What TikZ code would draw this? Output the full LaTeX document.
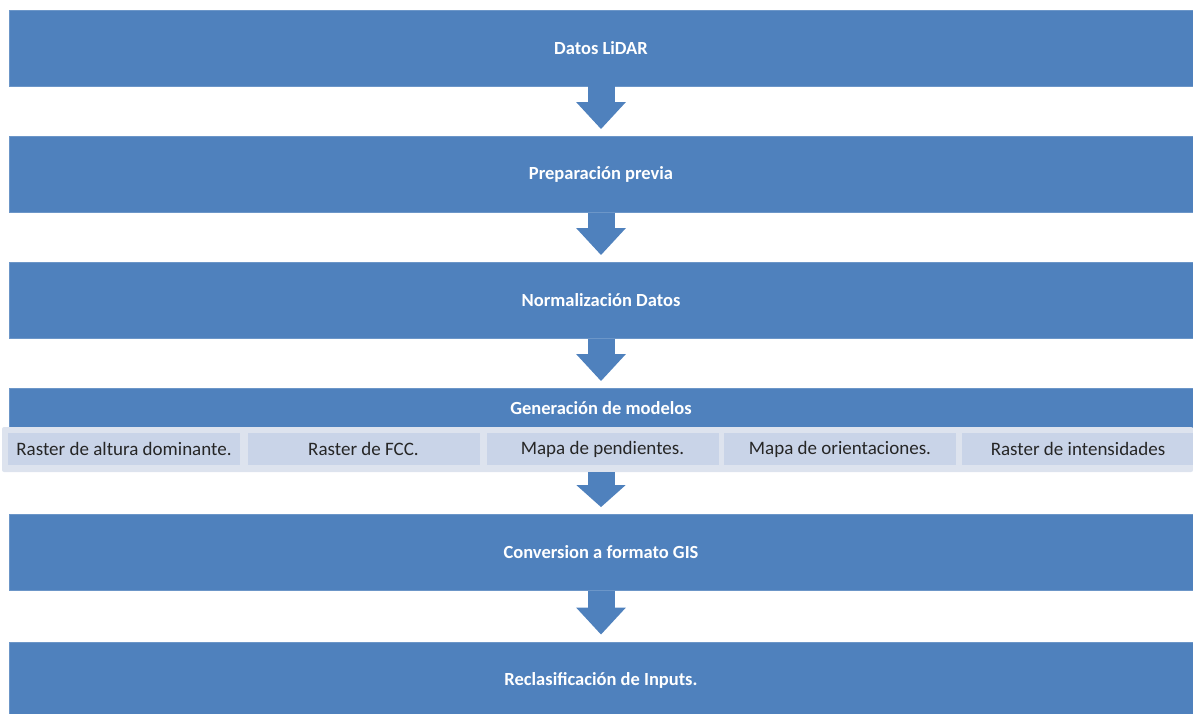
\documentclass[tikz,border=0pt]{standalone}
\usepackage{fontspec}
\setmainfont{Carlito}
\usetikzlibrary{arrows.meta}
\definecolor{boxblue}{HTML}{4F81BD}
\definecolor{boxedge}{HTML}{6C96C8}
\definecolor{panel}{HTML}{DDE3EE}
\definecolor{itemfill}{HTML}{C9D4E8}
\tikzset{
  stage/.style={fill=boxblue, draw=boxedge, line width=0.8pt, text=white, font=\bfseries\fontsize{18.5}{20}\selectfont, minimum width=1184pt, inner sep=0pt},
  item/.style={fill=itemfill, text=black!85, font=\fontsize{19}{21}\selectfont, minimum width=232pt, minimum height=32pt, inner sep=0pt},
  flow/.style={draw=boxblue, line width=27pt, -{Triangle[width=48pt,length=27pt]}, shorten >=7pt},
  flowsmall/.style={draw=boxblue, line width=27pt, -{Triangle[width=48pt,length=22pt]}, shorten >=7pt}
}
\begin{document}
\begin{tikzpicture}[x=1pt,y=-1pt]
\useasboundingbox (0,0) rectangle (1193,713);
\node[stage, minimum height=76pt] (b1) at (601,48) {Datos LiDAR};
\node[stage, minimum height=76pt] (b2) at (601,174.5) {Preparación previa};
\node[stage, minimum height=76pt] (b3) at (601,300.5) {Normalización Datos};
\node[stage, minimum height=39pt] (b4) at (601,408) {Generación de modelos};
\node[fill=panel, rounded corners=2pt, minimum width=1191pt, minimum height=45pt, inner sep=0pt] (pan) at (597.5,449.5) {};
\node[item] (i1) at (124,449) {Raster de altura dominante.};
\node[item] (i2) at (363.5,449) {Raster de FCC.};
\node[item] (i3) at (602.5,449) {Mapa de pendientes.};
\node[item] (i4) at (840,449) {Mapa de orientaciones.};
\node[item] (i5) at (1078,449) {Raster de intensidades};
\node[stage, minimum height=76pt] (b5) at (601,552.5) {Conversion a formato GIS};
\node[stage, minimum height=76pt] (b6) at (601,680) {Reclasificación de Inputs.};
\draw[flow] (b1.south) -- (b2.north);
\draw[flow] (b2.south) -- (b3.north);
\draw[flow] (b3.south) -- (b4.north);
\draw[flowsmall] (pan.south -| b4.south) -- (b5.north);
\draw[flow] (b5.south) -- (b6.north);
\end{tikzpicture}
\end{document}
